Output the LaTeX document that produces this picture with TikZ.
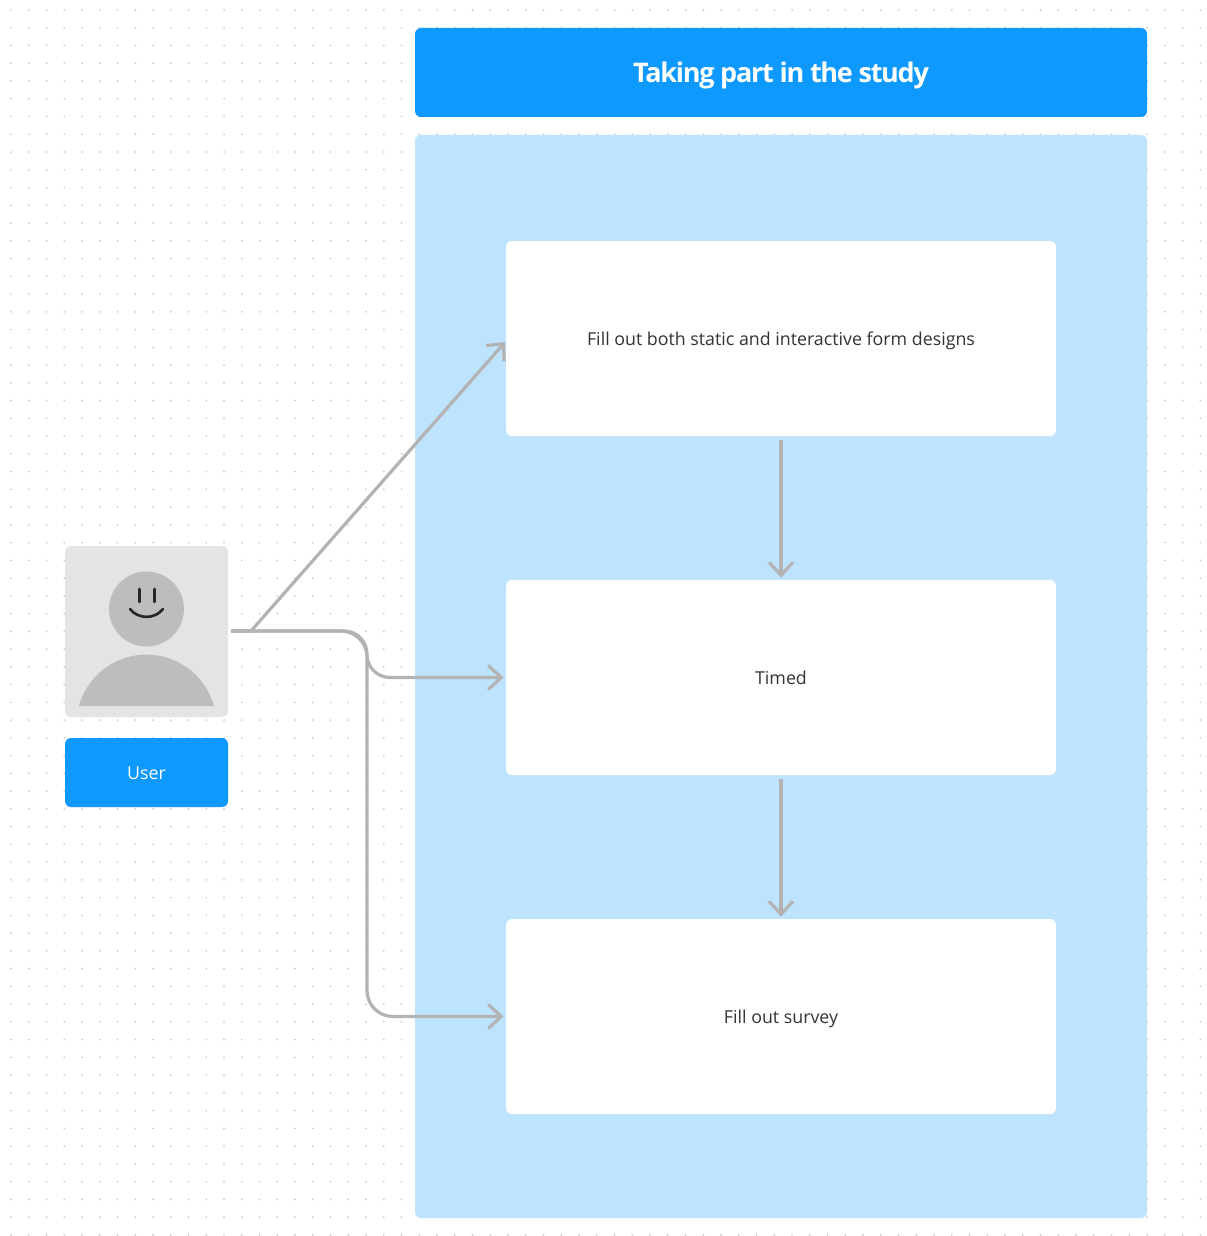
\documentclass[tikz,border=0pt]{standalone}
\usepackage{fontspec}
\setmainfont{Open Sans}
\newfontfamily\titlefont[LetterSpace=-4.7]{Open Sans}
\usetikzlibrary{arrows.meta}
\definecolor{headblue}{HTML}{0D99FF}
\definecolor{panelblue}{HTML}{BDE3FF}
\definecolor{linegray}{HTML}{B3B3B3}
\definecolor{cardgray}{HTML}{E4E4E4}
\definecolor{facegray}{HTML}{BDBDBD}
\definecolor{textgray}{HTML}{333333}
\tikzset{
	box/.style={rectangle, rounded corners=3pt, inner sep=0pt, align=center},
	label text/.style={text height=8pt, text depth=1pt, font=\fontsize{8.9}{11}\selectfont},
	stepbox/.style={box, label text, fill=white, minimum width=275pt, minimum height=97.5pt, text=textgray},
	flow/.style={draw=linegray, line width=1.6pt, -{Straight Barb[length=6.5pt, width=12pt, line width=1.6pt]}, shorten >=1pt},
	feature/.style={line width=1.3pt, line cap=round, black!85}
}
\begin{document}
\begin{tikzpicture}[x=0.5pt, y=-0.5pt]
	\useasboundingbox (0,0) rectangle (1206,1236);
	\fill[white] (0,0) rectangle (1206,1236);

	\foreach \i in {0,...,67} {
		\foreach \j in {0,...,69} {
			\fill[gray!40] (11+17.75*\i, 10+17.75*\j) circle (0.5pt);
		}
	}

	\node[box, fill=headblue, minimum width=366pt, minimum height=44.5pt, text=white, text height=11.5pt, text depth=1pt, font=\fontsize{13.5}{16}\titlefont\bfseries] (title) at (781,72.5) {Taking part in the study};
	\node[box, fill=panelblue, minimum width=366pt, minimum height=541.5pt] (panel) at (781,676.5) {};

	\node[stepbox] (fill) at (781,338.5) {Fill out both static and interactive form designs};
	\node[stepbox] (timed) at (781,677.5) {Timed};
	\node[stepbox] (survey) at (781,1016.5) {Fill out survey};

	\node[box, fill=cardgray, minimum width=81.5pt, minimum height=85.5pt] (card) at (146.5,631.5) {};
	\node[box, label text, fill=headblue, minimum width=81.5pt, minimum height=34.5pt, text=white] (user) at (146.5,772.5) {User};

	\fill[facegray] (146.5,609) circle (18.75pt);
	\fill[facegray] (79,706) arc[start angle=164.6, end angle=15.4, radius=35pt] -- cycle;
	\draw[feature] (139.5,589) -- (139.5,602);
	\draw[feature] (154.5,589) -- (154.5,602);
	\draw[feature] (130,609) .. controls (138,619.5) and (155,619.5) .. (163,609);

	\coordinate (out) at (231,631);
	\coordinate (fork) at (251,631);
	\coordinate (bus) at (367,800);

	\draw[flow, shorten >=0.3pt] (out) -- (fork) -- ([yshift=-1.5pt]fill.west);
	\draw[flow, rounded corners=11.5pt] (out) -- (out -| bus) |- (timed.west);
	\draw[flow, rounded corners=13pt] (out) -- (out -| bus) |- (survey.west);

	\draw[flow, shorten <=2pt] (fill) -- (timed);
	\draw[flow, shorten <=2pt] (timed) -- (survey);
\end{tikzpicture}
\end{document}
